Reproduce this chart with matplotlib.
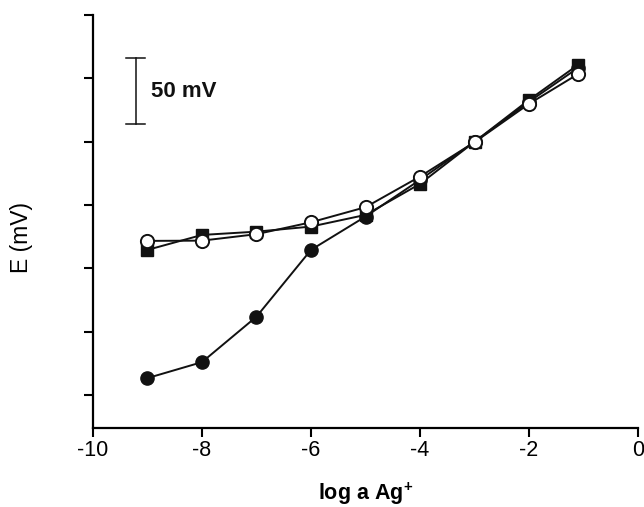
import matplotlib
matplotlib.use("Agg")
import matplotlib.pyplot as plt

plt.rcParams["font.family"] = ["Liberation Sans", "DejaVu Sans"]
plt.rcParams["axes.unicode_minus"] = False
plt.rcParams["mathtext.fontset"] = "custom"
plt.rcParams["mathtext.rm"] = "Liberation Sans"
plt.rcParams["mathtext.bf"] = "Liberation Sans:bold"

log_a = [-9, -8, -7, -6, -5, -4, -3, -2, -1.1]
e_filled_circle = [13.4, 26.0, 61.9, 114.6, 140.9, 169.9, 199.9, 231.5, 258.3]
e_square = [114.6, 126.4, 129.0, 133.0, 142.2, 166.7, 199.9, 233.0, 260.7]
e_open_circle = [121.7, 121.9, 127.0, 136.4, 148.3, 172.5, 199.6, 229.9, 253.4]

fig = plt.figure(figsize=(6.44, 5.07), dpi=100)
ax = fig.add_axes([0.1444, 0.1558, 0.8463, 0.8146])

ax.plot(log_a, e_filled_circle, "-o", color="#111111", mfc="#111111", mec="#111111",
        ms=9.5, lw=1.4, clip_on=False, zorder=3)
ax.plot(log_a, e_square, "-s", color="#111111", mfc="#111111", mec="#111111",
        ms=9, lw=1.4, clip_on=False, zorder=4)
ax.plot(log_a, e_open_circle, "-o", color="#111111", mfc="white", mec="#111111",
        mew=1.4, ms=9.5, lw=1.4, clip_on=False, zorder=5)

# 50 mV scale bar
bar_x, bar_lo, bar_hi = -9.22, 214, 266
ax.plot([bar_x, bar_x], [bar_lo, bar_hi], color="#111111", lw=1.1)
ax.plot([bar_x - 0.17, bar_x + 0.17], [bar_hi, bar_hi], color="#111111", lw=1.1)
ax.plot([bar_x - 0.17, bar_x + 0.17], [bar_lo, bar_lo], color="#111111", lw=1.1)
ax.text(bar_x + 0.28, (bar_lo + bar_hi) / 2, "50 mV", fontsize=16,
        fontweight="bold", va="center", ha="left", color="#111111")

ax.set_xlim(-10, 0)
ax.set_ylim(-26, 300)
ax.set_xticks([-10, -8, -6, -4, -2, 0])
ax.set_yticks([0, 50, 100, 150, 200, 250, 300])
ax.set_yticklabels([])

for s in ["top", "right"]:
    ax.spines[s].set_visible(False)
for s in ["left", "bottom"]:
    ax.spines[s].set_linewidth(1.6)
ax.tick_params(direction="out", length=6.5, width=1.5, labelsize=15.5, pad=2)

ax.set_xlabel("log a Ag$^{\\mathbf{+}}$", fontsize=15.5, fontweight="bold", labelpad=14)
ax.set_ylabel("E (mV)", fontsize=16.5)
ax.yaxis.set_label_coords(-0.110, 0.461)

fig.savefig("out.png", dpi=100)
